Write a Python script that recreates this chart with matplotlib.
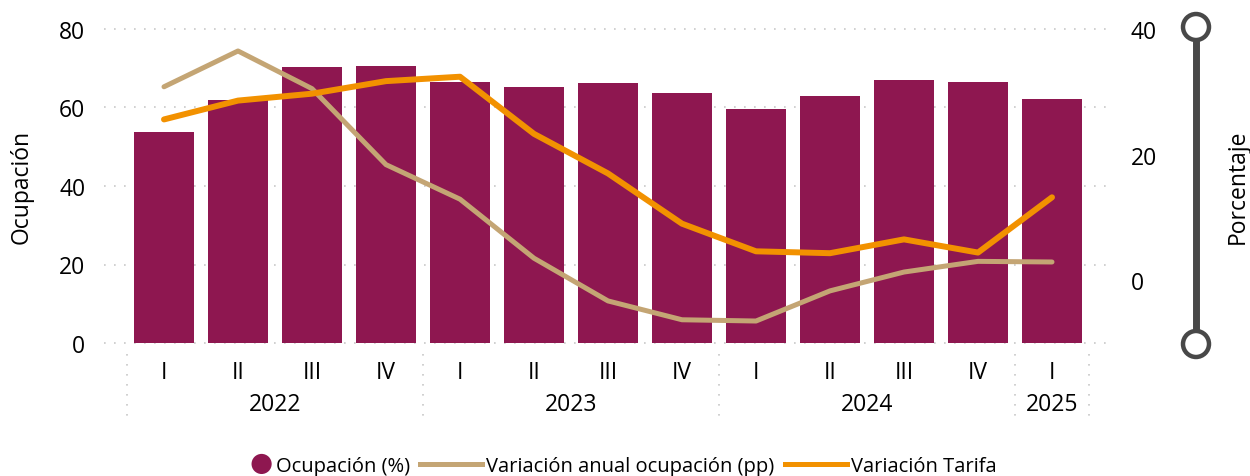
import numpy as np
import matplotlib
matplotlib.use("Agg")
import matplotlib.pyplot as plt
from matplotlib.lines import Line2D
from matplotlib.patches import Circle
from matplotlib.legend_handler import HandlerBase
from matplotlib.transforms import blended_transform_factory

plt.rcParams['font.family'] = ['Open Sans', 'DejaVu Sans']

# data
quarters = ['I', 'II', 'III', 'IV', 'I', 'II', 'III', 'IV', 'I', 'II', 'III', 'IV', 'I']
years = ['2022', '2022', '2022', '2022', '2023', '2023', '2023', '2023',
         '2024', '2024', '2024', '2024', '2025']
ocupacion = [53.8, 61.8, 70.2, 70.7, 66.6, 65.1, 66.3, 63.8, 59.7, 63.0, 67.1, 66.6, 62.2]
var_ocupacion = [30.8, 36.5, 30.5, 18.4, 12.9, 3.5, -3.3, -6.3, -6.5, -1.7, 1.3, 3.0, 2.9]
var_tarifa = [25.6, 28.6, 29.7, 31.7, 32.4, 23.3, 17.0, 9.0, 4.6, 4.3, 6.5, 4.4, 13.2]

BAR = '#8E1750'
TAN = '#C4A574'
ORANGE = '#F29100'
GRID = '#C8C8C8'


class RightDot(HandlerBase):
    # circle legend key sitting at the right end of the key box, next to the text
    def create_artists(self, legend, orig_handle, xdescent, ydescent, width, height, fontsize, trans):
        r = 0.5 * fontsize
        c = Circle((width - xdescent - r, 0.5 * height - ydescent), r,
                   facecolor=BAR, edgecolor='none', transform=trans)
        return [c]


W, H = 1250, 477
fig = plt.figure(figsize=(12.5, 4.77), dpi=100)
ax = fig.add_axes([127 / W, 1 - 344 / H, (1089 - 127) / W, (344 - 30) / H])
ax2 = ax.twinx()

x = np.arange(len(quarters))
bars = ax.bar(x, ocupacion, width=0.8, color=BAR, zorder=2)
ax.set_xlim(-0.5, len(quarters) - 0.5)
ax.set_ylim(0, 80)
ax.set_yticks([0, 20, 40, 60, 80])
for v in [0, 20, 40, 60, 80]:
    ax.axhline(v, xmin=-0.024, xmax=1.024, color=GRID, lw=1.2,
               linestyle=(0, (1, 5)), zorder=0, clip_on=False)

ax2.plot(x, var_ocupacion, color=TAN, lw=3.6, solid_capstyle='round', solid_joinstyle='round')
ax2.plot(x, var_tarifa, color=ORANGE, lw=4.3, solid_capstyle='round', solid_joinstyle='round')
ax2.set_ylim(-10, 40)
ax2.set_yticks([0, 20, 40])

for a in (ax, ax2):
    for s in a.spines.values():
        s.set_visible(False)
ax.tick_params(axis='y', length=0, labelsize=16.5, pad=30)
ax2.tick_params(axis='y', length=0, labelsize=16.5, pad=30)

# hierarchical x axis
ax.set_xticks(x)
ax.set_xticklabels(quarters)
ax.tick_params(axis='x', length=0, labelsize=16.5, pad=12)
trans = blended_transform_factory(ax.transData, ax.transAxes)
uniq = list(dict.fromkeys(years))
bounds = [-0.5]
for yr in uniq:
    idx = [i for i, y in enumerate(years) if y == yr]
    ax.text(np.mean(idx), -0.195, yr, transform=trans, ha='center', va='center', fontsize=16.5)
    bounds.append(idx[-1] + 0.5)
for b in bounds:
    ax.plot([b, b], [-0.035, -0.258], transform=trans, color=GRID, lw=1.2,
            linestyle=(0, (1, 5)), clip_on=False)

fig.text(22 / W, 1 - 187 / H, 'Ocupación', rotation=90, ha='center', va='center', fontsize=16.5)
fig.text(1238 / W, 1 - 187 / H, 'Porcentaje', rotation=90, ha='center', va='center', fontsize=16.5)

# slider decoration on the right
ov = fig.add_axes([0, 0, 1, 1], facecolor='none')
ov.set_xlim(0, W)
ov.set_ylim(H, 0)
ov.axis('off')
ov.plot([1196, 1196], [40, 333], color='#484848', lw=5, solid_capstyle='butt')
for cy in (28, 345):
    ov.add_patch(Circle((1196, cy), 13, facecolor='white', edgecolor='#484848', lw=3.2))

handles = [bars, Line2D([], [], color=TAN, lw=3.6), Line2D([], [], color=ORANGE, lw=3.6)]
labels = ['Ocupación (%)', 'Variación anual ocupación (pp)', 'Variación Tarifa']
fig.legend(handles, labels, loc='center', bbox_to_anchor=(0.5 - 22 / W, 1 - 467 / H), ncol=3,
           frameon=False, fontsize=14.5, handlelength=3.1, handletextpad=0.2,
           columnspacing=0.5, borderaxespad=0, handler_map={bars: RightDot()})

fig.savefig('out.png', dpi=100)
